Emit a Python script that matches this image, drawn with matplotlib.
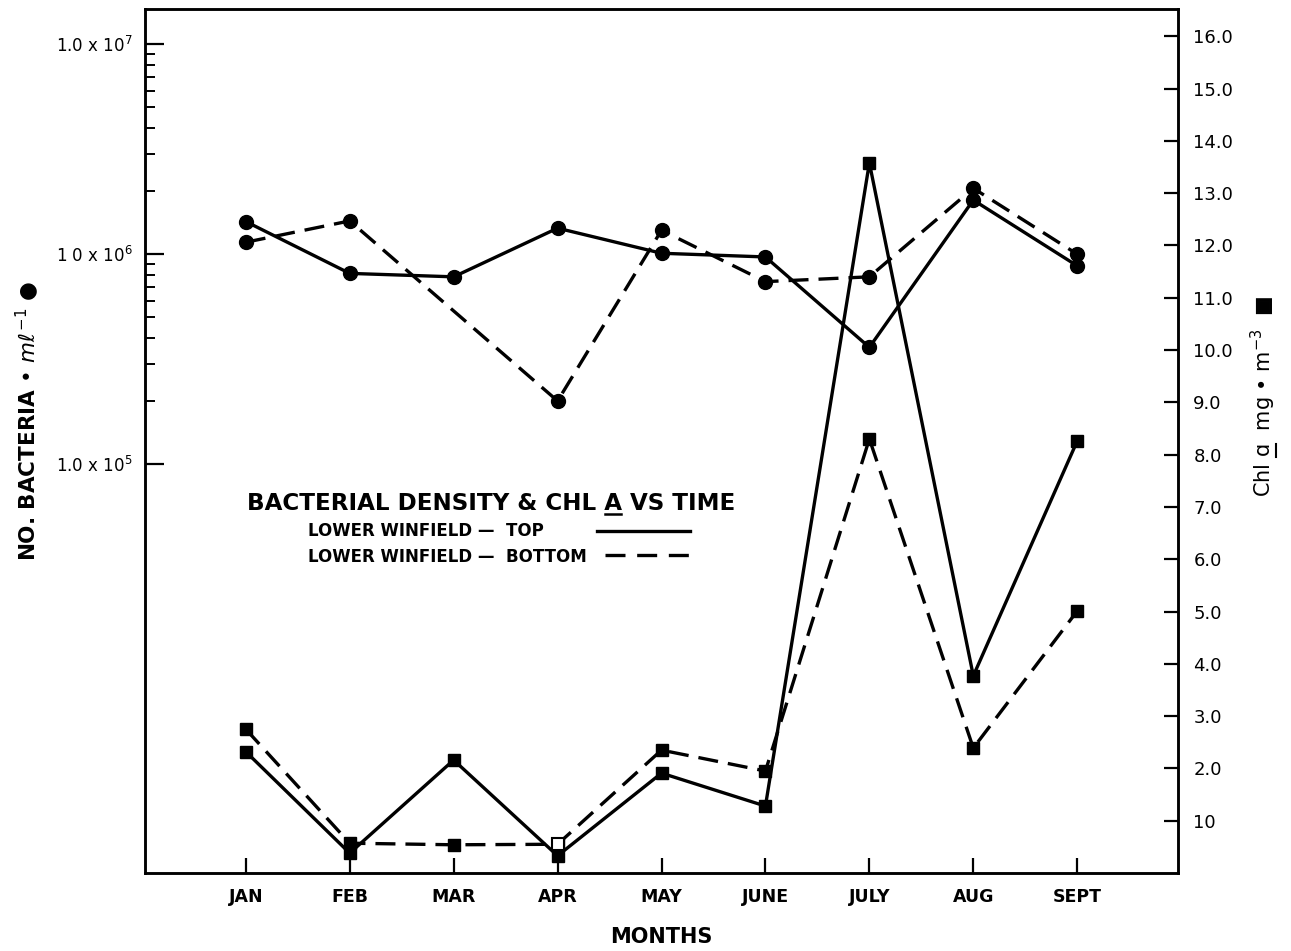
import matplotlib
matplotlib.use('Agg')
import matplotlib.pyplot as plt
from matplotlib.ticker import FixedLocator, NullFormatter
from matplotlib.lines import Line2D

plt.rcParams['font.family'] = ['DejaVu Sans']
plt.rcParams['mathtext.fontset'] = 'dejavusans'

# values
months = ['JAN', 'FEB', 'MAR', 'APR', 'MAY', 'JUNE', 'JULY', 'AUG', 'SEPT']

# bacteria per ml (left, log axis) - circles
bact_top = [1.43e6, 8.1e5, 7.8e5, 1.33e6, 1.01e6, 9.7e5, 3.6e5, 1.81e6, 8.8e5]
bact_bottom_months = ['JAN', 'FEB', 'APR', 'MAY', 'JUNE', 'JULY', 'AUG', 'SEPT']
bact_bottom = [1.14e6, 1.44e6, 2.0e5, 1.30e6, 7.4e5, 7.8e5, 2.06e6, 1.0e6]

# chl a mg/m3 (right axis) - squares
chl_top = [2.32, 0.38, 2.16, 0.33, 1.91, 1.28, 13.58, 3.77, 8.26]
chl_bottom = [2.75, 0.57, 0.54, 0.55, 2.35, 1.95, 8.30, 2.39, 5.01]
open_marker_month = 'APR'   # bottom chl value drawn with an open square

left_major = [1e5, 1e6, 1e7]
left_major_labels = ['1.0 x 10$^{5}$', '1 0 x 10$^{6}$', '1.0 x 10$^{7}$']
left_minor = [m * d for d in (1e5, 1e6) for m in range(2, 10)]
right_ticks = list(range(1, 17))
right_labels = ['10'] + ['%d.0' % v for v in right_ticks[1:]]

xpos = {m: i + 1 for i, m in enumerate(months)}
x = [xpos[m] for m in months]
x_bb = [xpos[m] for m in bact_bottom_months]

fig = plt.figure(figsize=(12.91, 9.51), dpi=100)
ax = fig.add_axes([0.1123, 0.082, 0.8002, 0.9085])
ax2 = ax.twinx()

lw = 2.4
dash = (6, 3)

# bacteria
ax.plot(x, bact_top, color='black', lw=lw, marker='o', ms=10)
ax.plot(x_bb, bact_bottom, color='black', lw=lw, marker='o', ms=10, dashes=dash)
ax.set_yscale('log')
ax.set_ylim(1.13e3, 1.47e7)
ax.set_xlim(0.03, 9.97)

# chl a
ax2.plot(x, chl_top, color='black', lw=lw, marker='s', ms=9)
ax2.plot(x, chl_bottom, color='black', lw=lw, marker='s', ms=9, dashes=dash)
i_open = months.index(open_marker_month)
ax2.plot([x[i_open]], [chl_bottom[i_open]], marker='s', ms=9, color='black',
         mfc='white', mew=1.5, ls='none', zorder=5)
ax2.set_ylim(0, 16.52)

# axis styling
for a in (ax, ax2):
    for s in a.spines.values():
        s.set_linewidth(1.8)

ax.yaxis.set_major_locator(FixedLocator(left_major))
ax.yaxis.set_minor_locator(FixedLocator(left_minor))
ax.yaxis.set_minor_formatter(NullFormatter())
ax.set_yticklabels(left_major_labels)
ax.tick_params(axis='y', which='major', direction='in', length=14, width=1.6,
               labelsize=12, pad=9)
ax.tick_params(axis='y', which='minor', direction='in', length=7, width=1.4)

ax.set_xticks(x)
ax.set_xticklabels(months, fontweight='bold')
ax.tick_params(axis='x', direction='in', length=11, width=1.6, labelsize=12.5, pad=11)

ax2.set_yticks(right_ticks)
ax2.set_yticklabels(right_labels)
ax2.tick_params(axis='y', direction='in', length=10, width=1.6, labelsize=13, pad=11)

ax.set_xlabel('MONTHS', fontsize=15, fontweight='bold', labelpad=15)

fig.text(0.021, 0.558, 'NO. BACTERIA \u2022 $m\\ell^{-1}$ \u25cf', rotation=90,
         ha='center', va='center', fontsize=15.5, fontweight='bold')
right_text = 'Chl \u0251  mg \u2022 m$^{-3}$  \u25a0'
right_lab = fig.text(0.979, 0.583, right_text, rotation=90,
                     ha='center', va='center', fontsize=15)

# legend block
tr = ax.transAxes
tkw = dict(fontsize=16.6, fontweight='bold')
title = ax.text(0.0987, 0.428, 'BACTERIAL DENSITY & CHL A VS TIME',
                transform=tr, va='center', ha='left', **tkw)
ax.text(0.1578, 0.396, 'LOWER WINFIELD \u2014  TOP', transform=tr,
        fontsize=12, fontweight='bold', va='center', ha='left')
ax.text(0.1578, 0.366, 'LOWER WINFIELD \u2014  BOTTOM', transform=tr,
        fontsize=12, fontweight='bold', va='center', ha='left')
ax.add_line(Line2D([0.4376, 0.5276], [0.396, 0.396], transform=tr,
                   color='black', lw=lw))
ax.add_line(Line2D([0.445, 0.5276], [0.368, 0.368], transform=tr,
                   color='black', lw=lw, dashes=(6, 3.5)))

# underlines (A in title, a in right label), measured from the rendered text
r = fig.canvas.get_renderer()
inv = fig.transFigure.inverted()


def text_width(s, **kw):
    t = fig.text(0.5, 0.5, s, **kw)
    w = t.get_window_extent(r).width
    t.remove()
    return w


def descent(**kw):
    t = fig.text(0.5, 0.5, 'A', va='baseline', **kw)
    d = 0.5 * fig.bbox.height - t.get_window_extent(r).y0
    t.remove()
    return d


bb = title.get_window_extent(r)
x1 = bb.x0 + text_width('BACTERIAL DENSITY & CHL A', **tkw)
x0 = x1 - text_width('A', **tkw) + 1
yb = bb.y0 + descent(**tkw) - 4
p0, p1 = inv.transform([(x0, yb), (x1 - 1, yb)])
fig.add_artist(Line2D([p0[0], p1[0]], [p0[1], p1[1]], transform=fig.transFigure,
                      color='black', lw=1.8))

bb = right_lab.get_window_extent(r)
rkw = dict(fontsize=15)
y0 = bb.y0 + text_width('Chl ', **rkw)
y1 = y0 + text_width('\u0251', **rkw)
xb = bb.x1 - descent(**rkw) + 1.5
p0, p1 = inv.transform([(xb, y0), (xb, y1)])
fig.add_artist(Line2D([p0[0], p1[0]], [p0[1], p1[1]], transform=fig.transFigure,
                      color='black', lw=1.5))

fig.savefig('out.png', dpi=100)
